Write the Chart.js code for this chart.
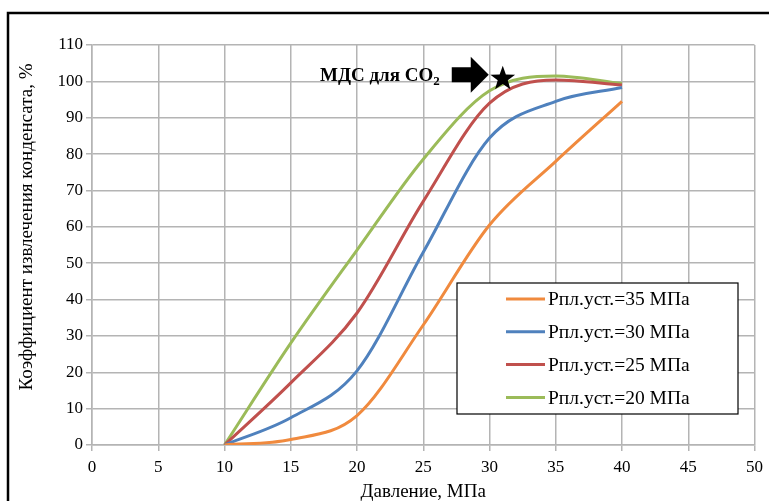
<!DOCTYPE html>
<html>
<head>
<meta charset="utf-8">
<script src="https://cdn.jsdelivr.net/npm/chart.js@4.4.1/dist/chart.umd.min.js"></script>
<style>
  html, body { margin: 0; padding: 0; background: #fff; }
  #wrap { width: 769px; height: 501px; }
</style>
</head>
<body>
<div id="wrap"><canvas id="recoveryChart" width="769" height="501"></canvas></div>
<script>
// давление, МПа
const pressure = [10, 15, 20, 25, 30, 35, 40];
// коэффициент извлечения конденсата, % при разных Рпл.уст.
const recovery35 = [0, 1.5, 8.1, 33, 60.5, 78, 94.5];
const recovery30 = [0, 7.5, 20.4, 53, 84.4, 94.5, 98.3];
const recovery25 = [0, 17.1, 36.3, 67, 94, 100.4, 99];
const recovery20 = [0, 28, 53.6, 78.6, 97.4, 101.5, 99.4];

const seriesLabels = ['Рпл.уст.=35 МПа', 'Рпл.уст.=30 МПа', 'Рпл.уст.=25 МПа', 'Рпл.уст.=20 МПа'];
const seriesColors = ['#F08A3E', '#4F81BD', '#C0504D', '#9BBB59'];
const xTicks = [0, 5, 10, 15, 20, 25, 30, 35, 40, 45, 50];
const yTicks = [0, 10, 20, 30, 40, 50, 60, 70, 80, 90, 100, 110];

// МДС для CO2
const mmpPoint = { x: 31, y: 101 };
const mmpLabel = 'МДС для CO';
const yTitle = 'Коэффициент извлечения конденсата, %';

const serif = "'Liberation Serif', 'Times New Roman', serif";
const gridColor = '#b4b4b4';

function toPoints(values) {
    return pressure.map((p, i) => ({ x: p, y: values[i] }));
}

const allSeries = [recovery35, recovery30, recovery25, recovery20];

// рамка вокруг диаграммы и подпись оси Y
const framePlugin = {
    id: 'frame',
    beforeDraw(chart) {
        const c = chart.ctx;
        c.save();
        c.fillStyle = '#fff';
        c.fillRect(0, 0, chart.width, chart.height);
        c.strokeStyle = '#000';
        c.lineWidth = 2.5;
        c.beginPath();
        c.moveTo(chart.width, 13);
        c.lineTo(8, 13);
        c.lineTo(8, chart.height);
        c.stroke();
        // подпись оси Y (смещена выше центра оси)
        c.translate(27, 227);
        c.rotate(-Math.PI / 2);
        c.fillStyle = '#000';
        c.font = '19px ' + serif;
        c.textAlign = 'center';
        c.textBaseline = 'middle';
        c.fillText(yTitle, 0, 0);
        c.restore();
    }
};

// легенда внутри области графика
const boxLegendPlugin = {
    id: 'boxLegend',
    afterDraw(chart) {
        const c = chart.ctx;
        const left = 457, top = 283, w = 281, h = 131;
        c.save();
        c.fillStyle = '#fff';
        c.fillRect(left, top, w, h);
        c.strokeStyle = '#000';
        c.lineWidth = 1.2;
        c.strokeRect(left, top, w, h);
        c.font = '19.5px ' + serif;
        c.textBaseline = 'middle';
        chart.data.datasets.forEach((ds, i) => {
            const y = top + 16 + i * 32.8;
            c.strokeStyle = ds.borderColor;
            c.lineWidth = 3;
            c.beginPath();
            c.moveTo(506, y);
            c.lineTo(545, y);
            c.stroke();
            c.fillStyle = '#000';
            c.fillText(ds.label, 548, y + 1);
        });
        c.restore();
    }
};

// подпись МДС: текст, стрелка и звезда
const mmpPlugin = {
    id: 'mmp',
    afterDatasetsDraw(chart) {
        const c = chart.ctx;
        const sx = chart.scales.x.getPixelForValue(mmpPoint.x);
        const sy = chart.scales.y.getPixelForValue(mmpPoint.y);
        c.save();
        // звезда
        c.fillStyle = '#000';
        c.beginPath();
        const R = 13, r = 5.3;
        for (let k = 0; k < 10; k++) {
            const rad = k % 2 === 0 ? R : r;
            const a = -Math.PI / 2 + k * Math.PI / 5;
            const px = sx + rad * Math.cos(a);
            const py = sy + 1 + rad * Math.sin(a);
            if (k === 0) c.moveTo(px, py); else c.lineTo(px, py);
        }
        c.closePath();
        c.fill();
        // стрелка
        const tipX = sx - 14, tipY = sy - 3;
        c.beginPath();
        c.moveTo(tipX, tipY);
        c.lineTo(tipX - 18, tipY - 18);
        c.lineTo(tipX - 18, tipY - 7.5);
        c.lineTo(tipX - 37, tipY - 7.5);
        c.lineTo(tipX - 37, tipY + 7.5);
        c.lineTo(tipX - 18, tipY + 7.5);
        c.lineTo(tipX - 18, tipY + 18);
        c.closePath();
        c.fill();
        // текст
        c.font = 'bold 19px ' + serif;
        c.textBaseline = 'alphabetic';
        c.textAlign = 'left';
        const tw = c.measureText(mmpLabel).width;
        c.font = 'bold 13px ' + serif;
        const sw = c.measureText('2').width;
        const textX = tipX - 49 - tw - sw;
        c.font = 'bold 19px ' + serif;
        c.fillText(mmpLabel, textX, tipY + 6);
        c.font = 'bold 13px ' + serif;
        c.fillText('2', textX + tw, tipY + 10);
        c.restore();
    }
};

const ctx = document.getElementById('recoveryChart').getContext('2d');
const recoveryChart = new Chart(ctx, {
    type: 'line',
    data: {
        datasets: allSeries.map((vals, i) => ({
            label: seriesLabels[i],
            data: toPoints(vals),
            borderColor: seriesColors[i],
            backgroundColor: seriesColors[i],
            borderWidth: 3,
            pointRadius: 0,
            cubicInterpolationMode: 'monotone',
            fill: false
        }))
    },
    options: {
        responsive: false,
        animation: false,
        layout: { padding: { left: 10, top: 45, right: 14, bottom: 0 } },
        plugins: {
            legend: { display: false },
            tooltip: { enabled: false }
        },
        scales: {
            x: {
                type: 'linear',
                min: 0,
                max: 50,
                afterBuildTicks: (scale) => { scale.ticks = xTicks.map(v => ({ value: v })); },
                afterFit: (scale) => { scale.height = 56; },
                grid: { color: gridColor, lineWidth: 1.5, tickLength: 6 },
                border: { color: gridColor, width: 1.5 },
                ticks: { color: '#000', font: { family: serif, size: 17 }, padding: 6, maxRotation: 0 },
                title: {
                    display: true,
                    text: 'Давление, МПа',
                    color: '#000',
                    font: { family: serif, size: 19 },
                    padding: { top: 0, bottom: -2 }
                }
            },
            y: {
                min: 0,
                max: 110,
                afterBuildTicks: (scale) => { scale.ticks = yTicks.map(v => ({ value: v })); },
                afterFit: (scale) => { scale.width = 82; },
                grid: { color: gridColor, lineWidth: 1.5, tickLength: 6 },
                border: { color: gridColor, width: 1.5 },
                ticks: { color: '#000', font: { family: serif, size: 17 }, padding: 3 },
                title: { display: false }
            }
        }
    },
    plugins: [framePlugin, boxLegendPlugin, mmpPlugin]
});
</script>
</body>
</html>
